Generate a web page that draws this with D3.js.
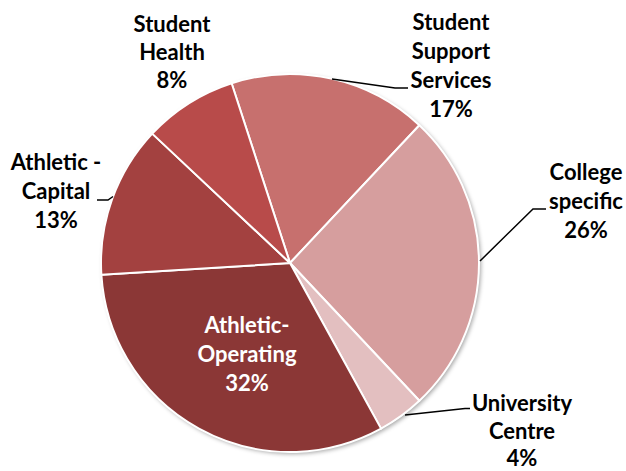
<!DOCTYPE html>
<html>
<head>
<meta charset="utf-8">
<script src="https://cdn.jsdelivr.net/npm/d3@7"></script>
<style>
  html, body { margin: 0; padding: 0; background: #fff; }
  svg { display: block; }
  text { font-family: Lato, "Open Sans", sans-serif; font-weight: bold; }
</style>
</head>
<body>
<svg id="chart" width="626" height="471"></svg>
<script>
// Share of student fees by area (percent)
const categories = ["Student Support Services", "College specific", "University Centre",
                    "Athletic-Operating", "Athletic - Capital", "Student Health"];
const shares = [17, 26, 4, 32, 13, 8];
const labelLines = [
  ["Student", "Support", "Services", "17%"],
  ["College", "specific", "26%"],
  ["University", "Centre", "4%"],
  ["Athletic-", "Operating", "32%"],
  ["Athletic -", "Capital", "13%"],
  ["Student", "Health", "8%"]
];
const colors = ["#C7706E", "#D69E9E", "#E3BFC0", "#8B3736", "#A34140", "#B84B4A"];

const W = 626, H = 471;
const cx = 290, cy = 263, R = 189;
const startAngle = -18 * Math.PI / 180;

const svg = d3.select("#chart");

const defs = svg.append("defs");
const f = defs.append("filter").attr("id", "shadow")
  .attr("x", "-10%").attr("y", "-10%").attr("width", "120%").attr("height", "120%");
f.append("feDropShadow").attr("dx", 2).attr("dy", 2).attr("stdDeviation", 2.2)
  .attr("flood-color", "#000").attr("flood-opacity", 0.35);

const data = categories.map((c, i) => ({ name: c, value: shares[i], lines: labelLines[i], color: colors[i] }));

const pie = d3.pie().value(d => d.value).sort(null)
  .startAngle(startAngle).endAngle(startAngle + 2 * Math.PI);
const arcs = pie(data);
const arc = d3.arc().innerRadius(0).outerRadius(R);

const g = svg.append("g").attr("transform", `translate(${cx},${cy})`);

// soft shadow under the whole disc
g.append("circle").attr("r", R).attr("fill", "#fff").attr("filter", "url(#shadow)");

g.selectAll("path.slice").data(arcs).enter().append("path")
  .attr("class", "slice")
  .attr("d", arc)
  .attr("fill", d => d.data.color)
  .attr("stroke", "#fff")
  .attr("stroke-width", 2)
  .attr("stroke-linejoin", "round");

// label placement: centre x, first baseline, line spacing, colour
const labelPos = {
  "Student Support Services": { x: 451, y: 30, lh: 29, fill: "#000" },
  "College specific": { x: 586, y: 180, lh: 29, fill: "#000" },
  "University Centre": { x: 522, y: 411, lh: 27.5, fill: "#000" },
  "Athletic-Operating": { x: 247, y: 333, lh: 29, fill: "#fff" },
  "Athletic - Capital": { x: 56, y: 170, lh: 29, fill: "#000" },
  "Student Health": { x: 172, y: 32, lh: 28, fill: "#000" }
};

const labels = svg.append("g");
data.forEach(d => {
  const p = labelPos[d.name];
  const t = labels.append("text")
    .attr("text-anchor", "middle")
    .attr("font-size", 22)
    .attr("fill", p.fill);
  d.lines.forEach((ln, i) => {
    t.append("tspan").attr("x", p.x).attr("y", p.y + i * p.lh).text(ln);
  });
});

// leader lines from slice edge to label
const leaders = [
  { name: "Student Support Services", pts: [[408, 88], [395, 88], [332, 79]] },
  { name: "College specific", pts: [[546, 209], [533, 209], [480, 261]] },
  { name: "University Centre", pts: [[470, 408.5], [465, 408.5], [405, 415]] },
  { name: "Athletic - Capital", pts: [[97, 200], [108, 200], [113, 196.5]] }
];
svg.append("g").selectAll("path").data(leaders).enter().append("path")
  .attr("d", d => d3.line()(d.pts))
  .attr("fill", "none").attr("stroke", "#000").attr("stroke-width", 1.5);
</script>
</body>
</html>
